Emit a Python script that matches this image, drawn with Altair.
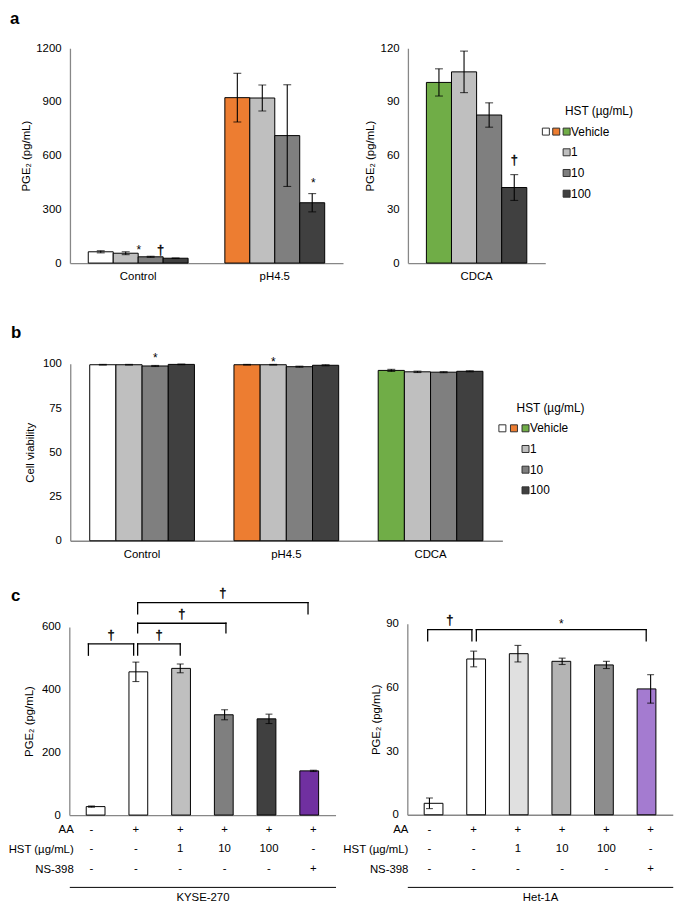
import altair as alt
import pandas as pd

FONT = "Liberation Sans"
INK = "#000000"
AXIS_GRAY = "#878787"
PAGE = 8
W, H = 677, 906


def px(v):
    return v - PAGE


def py(v):
    return v - PAGE


# ---------------- data ----------------
hst_levels = ["Vehicle", "1", "10", "100"]
KEYS = ["Vehicle|Control", "Vehicle|pH4.5", "Vehicle|CDCA", "1", "10", "100"]
KEY_COLORS = ["#ffffff", "#ed7d31", "#70ad47", "#bfbfbf", "#7f7f7f", "#404040"]

# panel a
a_left_groups = ["Control", "pH4.5"]
a_right_groups = ["CDCA"]
a_control_mean = [63, 55, 35, 27]
a_control_err = [6, 8, 3, 1.5]
a_ph_mean = [924, 922, 712, 337]
a_ph_err = [136, 73, 284, 51]
a_cdca_mean = [100.9, 106.8, 82.7, 42.2]
a_cdca_err = [7.6, 11.6, 6.8, 7.2]
a_left_ticks = [0, 300, 600, 900, 1200]
a_right_ticks = [0, 30, 60, 90, 120]
a_left_notes = [("Control", "10", "*", 90.5), ("Control", "10", "†", 74), ("pH4.5", "100", "*", 467)]
a_left_note_dx = [-12, 10, 1]
a_right_notes = [("CDCA", "100", "†", 57.8)]
a_right_note_dx = [0]

# panel b
b_groups = ["Control", "pH4.5", "CDCA"]
b_control_mean = [99.5, 99.5, 98.8, 99.7]
b_control_err = [0.2, 0.2, 0.3, 0.2]
b_ph_mean = [99.5, 99.5, 98.4, 99.2]
b_ph_err = [0.2, 0.2, 0.3, 0.3]
b_cdca_mean = [96.3, 95.5, 95.3, 95.8]
b_cdca_err = [0.6, 0.4, 0.3, 0.3]
b_ticks = [0, 25, 50, 75, 100]
b_notes = [("Control", "10", "*", 105.3), ("pH4.5", "1", "*", 103)]
b_note_dx = [0, 0]

legend_title = "HST (µg/mL)"
legend_labels = ["Vehicle", "1", "10", "100"]

# panel c
c_conditions = ["none", "AA", "AA+HST 1", "AA+HST 10", "AA+HST 100", "AA+NS-398"]
c_row_names = ["AA", "HST (µg/mL)", "NS-398"]
c_aa = ["-", "+", "+", "+", "+", "+"]
c_hst = ["-", "-", "1", "10", "100", "-"]
c_ns = ["-", "-", "-", "-", "-", "+"]
kyse_mean = [27, 457, 468, 320, 307, 141]
kyse_err = [2, 31, 14, 16, 15, 2]
het_mean = [5.4, 73.4, 75.9, 72.3, 70.6, 59.3]
het_err = [2.5, 3.7, 3.9, 1.5, 1.7, 6.7]
kyse_colors = ["#ffffff", "#ffffff", "#bfbfbf", "#7f7f7f", "#404040", "#7030a0"]
het_colors = ["#ffffff", "#ffffff", "#e0e0e0", "#b4b4b4", "#8d8d8d", "#a47bd0"]
kyse_ticks = [0, 200, 400, 600]
het_ticks = [0, 30, 60, 90]
# brackets: (left x, right x, top, leg bottom, symbol) in data units
kyse_brackets = [(-0.07, 0.95, 546, 510, "†"), (1.04, 2.0, 546, 510, "†"),
                 (1.04, 3.03, 612, 581, "†"), (1.04, 4.88, 678, 642, "†")]
het_brackets = [(-0.04, 0.96, 87.2, 81.9, "†"), (1.06, 4.9, 87.2, 81.9, "*")]

layers = []


def sym_dy(s):
    return 3.4 if s == "*" else 0


def sym_style(s):
    if s == "†":
        return dict(fontSize=13, stroke=INK, strokeWidth=0.35)
    return dict(fontSize=12)


def grouped(groups, means, errs, notes, note_dx, box, pads, ydom, yticks, ytitle, tpad, cap):
    x0, x1, y0, y1 = box
    rows = []
    for g, ms, es in zip(groups, means, errs):
        for h, m, e in zip(hst_levels, ms, es):
            rows.append({"group": g, "hst": h, "mean": m, "lo": m - e, "hi": m + e,
                         "key": ("Vehicle|" + g) if h == "Vehicle" else h})
    df = pd.DataFrame(rows)
    xs = alt.Scale(type="band", domain=groups, range=[px(x0), px(x1)],
                   paddingInner=pads[0], paddingOuter=pads[1])
    ys = alt.Scale(domain=ydom, range=[py(y1), py(y0)], nice=False, zero=True)
    xaxis = alt.Axis(title=None, orient="bottom", offset=py(y1) - H, labelAngle=0, ticks=False,
                     grid=False, domainColor=AXIS_GRAY, domainWidth=1.3, labelPadding=8)
    yaxis = alt.Axis(title=ytitle, orient="left", offset=-px(x0), values=yticks, format="d", ticks=False,
                     grid=False, domainColor=AXIS_GRAY, domainWidth=1.3, labelPadding=9,
                     titlePadding=tpad, titleFontWeight="normal")

    def xe(show=False):
        return alt.X("group:N", scale=xs, axis=xaxis if show else None)

    def xo():
        return alt.XOffset("hst:N", scale=alt.Scale(type="band", domain=hst_levels,
                                                     paddingInner=0, paddingOuter=0))

    def ye(f, show=False):
        return alt.Y(f, type="quantitative", scale=ys, axis=yaxis if show else None)

    out = [
        alt.Chart(df).mark_bar(stroke=INK, strokeWidth=1).encode(
            x=xe(True), xOffset=xo(), y=ye("mean", True),
            fill=alt.Fill("key:N", scale=alt.Scale(domain=KEYS, range=KEY_COLORS), legend=None)),
        alt.Chart(df).mark_rule(color=INK, strokeWidth=1.1).encode(
            x=xe(), xOffset=xo(), y=ye("lo"), y2="hi:Q"),
    ]
    for f in ("lo", "hi"):
        out.append(alt.Chart(df).mark_tick(color=INK, thickness=1.1, size=cap, orient="horizontal").encode(
            x=xe(), xOffset=xo(), y=ye(f)))
    for (g, h, s, lv), dx in zip(notes, note_dx):
        ndf = pd.DataFrame([{"group": g, "hst": h, "sym": s, "level": lv}])
        out.append(alt.Chart(ndf).mark_text(font=FONT, dx=dx, dy=sym_dy(s), baseline="middle", fill=INK,
                                            **sym_style(s)).encode(
            x=xe(), xOffset=xo(), y=ye("level"), text="sym:N"))
    return out


def legend(cx, ry, title_dx):
    xs = alt.Scale(domain=[0, 2], range=[px(cx[0]), px(cx[1])], nice=False, zero=False)
    ys = alt.Scale(domain=[-1, 3], range=[py(ry[0]), py(ry[1])], nice=False, zero=False)
    sq = pd.DataFrame({"col": [0, 1, 2, 2, 2, 2], "row": [0, 0, 0, 1, 2, 3], "key": KEYS})
    lab = pd.DataFrame({"col": [2] * 4, "row": [0, 1, 2, 3], "text": legend_labels})
    tit = pd.DataFrame({"col": [2], "row": [-1], "text": [legend_title]})
    return [
        alt.Chart(sq).mark_square(size=50, stroke="#303030", strokeWidth=1, opacity=1).encode(
            x=alt.X("col:Q", scale=xs, axis=None), y=alt.Y("row:Q", scale=ys, axis=None),
            fill=alt.Fill("key:N", scale=alt.Scale(domain=KEYS, range=KEY_COLORS), legend=None)),
        alt.Chart(lab).mark_text(font=FONT, fontSize=12, align="left", baseline="middle", dx=4.5, color=INK).encode(
            x=alt.X("col:Q", scale=xs, axis=None), y=alt.Y("row:Q", scale=ys, axis=None), text="text:N"),
        alt.Chart(tit).mark_text(font=FONT, fontSize=12, align="left", baseline="middle", dx=title_dx, color=INK).encode(
            x=alt.X("col:Q", scale=xs, axis=None), y=alt.Y("row:Q", scale=ys, axis=None), text="text:N"),
    ]


def c_panel(means, errs, colors, box, ydom, yticks, tpad, brackets, cell, label_end, rows_y, line_y):
    x0, x1, y0, y1 = box
    df = pd.DataFrame({"idx": list(range(6)), "cond": c_conditions, "mean": means,
                       "lo": [m - e for m, e in zip(means, errs)], "hi": [m + e for m, e in zip(means, errs)]})
    xs = alt.Scale(domain=[-0.5, 5.5], range=[px(x0), px(x1)], nice=False, zero=False)
    ys = alt.Scale(domain=ydom, range=[py(y1), py(y0)], nice=False, zero=True)
    xaxis = alt.Axis(orient="bottom", offset=py(y1) - H, labels=False, ticks=False, grid=False, title=None,
                     domainColor=AXIS_GRAY, domainWidth=1.3)
    yaxis = alt.Axis(title="PGE₂ (pg/mL)", orient="left", offset=-px(x0), values=yticks, format="d",
                     ticks=False, grid=False, domainColor=AXIS_GRAY, domainWidth=1.3, labelPadding=9,
                     titlePadding=tpad, titleFontWeight="normal")

    def xe(f, show=False):
        return alt.X(f, type="quantitative", scale=xs, axis=xaxis if show else None)

    def ye(f, show=False):
        return alt.Y(f, type="quantitative", scale=ys, axis=yaxis if show else None)

    out = [
        alt.Chart(df).mark_bar(size=19, stroke=INK, strokeWidth=1, orient="vertical").encode(
            x=xe("idx", True), y=ye("mean", True),
            fill=alt.Fill("cond:N", scale=alt.Scale(domain=c_conditions, range=colors), legend=None)),
        alt.Chart(df).mark_rule(color=INK, strokeWidth=1.1).encode(x=xe("idx"), y=ye("lo"), y2="hi:Q"),
    ]
    for f in ("lo", "hi"):
        out.append(alt.Chart(df).mark_tick(color=INK, thickness=1.1, size=7, orient="horizontal").encode(
            x=xe("idx"), y=ye(f)))
    bdf = pd.DataFrame([{"x1": a, "x2": b, "mid": (a + b) / 2, "top": t, "bot": bt, "sym": s}
                        for a, b, t, bt, s in brackets])
    out.append(alt.Chart(bdf).mark_rule(color=INK, strokeWidth=1.3, strokeCap="square").encode(
        x=xe("x1"), x2="x2:Q", y=ye("top")))
    for f in ("x1", "x2"):
        out.append(alt.Chart(bdf).mark_rule(color=INK, strokeWidth=1.3, strokeCap="square").encode(
            x=xe(f), y=ye("bot"), y2="top:Q"))
    for s in sorted(set(bdf["sym"])):
        out.append(alt.Chart(bdf[bdf["sym"] == s]).mark_text(
            font=FONT, baseline="middle", dy=-9.5 + sym_dy(s), fill=INK, **sym_style(s)).encode(
            x=xe("mid"), y=ye("top"), text="sym:N"))
    # condition table underneath
    trows = []
    for i in range(6):
        for name, vals in zip(c_row_names, (c_aa, c_hst, c_ns)):
            trows.append({"idx": i, "row": name, "val": vals[i]})
    tdf = pd.DataFrame(trows)
    txaxis = alt.Axis(orient="bottom", offset=py(line_y) - H, labels=False, ticks=False, grid=False,
                      title=cell, titlePadding=5, titleFontWeight="normal", domainColor=INK, domainWidth=1)
    tys = alt.Scale(type="point", domain=c_row_names, range=[py(rows_y[0]), py(rows_y[1])], padding=0)
    tyaxis = alt.Axis(orient="left", offset=-px(label_end), domain=False, ticks=False, grid=False,
                      labelPadding=0, title=None)
    out.append(alt.Chart(tdf).mark_text(font=FONT, fontSize=11.5, baseline="middle", color=INK).encode(
        x=alt.X("idx:Q", scale=xs, axis=txaxis), y=alt.Y("row:N", scale=tys, axis=tyaxis), text="val:N"))
    return out


layers += grouped(a_left_groups, [a_control_mean, a_ph_mean], [a_control_err, a_ph_err],
                  a_left_notes, a_left_note_dx, (70.7, 347, 43.3, 260.7), (0.269, 0.134),
                  [0, 1200], a_left_ticks, "PGE₂ (pg/mL)", 4, 8)
layers += grouped(a_right_groups, [a_cdca_mean], [a_cdca_err],
                  a_right_notes, a_right_note_dx, (412.7, 551.7, 43.3, 260.7), (0, 0.184),
                  [0, 120], a_right_ticks, "PGE₂ (pg/mL)", 5, 8)
layers += legend((552.3, 573.3), (106.7, 190.5), -1.6)
layers += grouped(b_groups, [b_control_mean, b_ph_mean, b_cdca_mean], [b_control_err, b_ph_err, b_cdca_err],
                  b_notes, b_note_dx, (71, 508.3, 362.7, 541.7), (0.274, 0.135),
                  [0, 100], b_ticks, "Cell viability", 7, 8)
layers += legend((508.3, 531.7), (407, 490.7), -9)
layers += c_panel(kyse_mean, kyse_err, kyse_colors, (70.05, 339.45, 629, 819.3), [0, 600], kyse_ticks, 7,
                  kyse_brackets, "KYSE-270", 74, (834, 874), 892)
layers += c_panel(het_mean, het_err, het_colors, (412.1, 680.7, 625.7, 819), [0, 90], het_ticks, 4,
                  het_brackets, "Het-1A", 412.7, (834, 874), 892)

# panel tags
for tag, (tx, ty) in zip(["a", "b", "c"], [(10, 18.3), (11, 336.7), (11, 603)]):
    layers.append(alt.Chart(pd.DataFrame({"t": [tag]})).mark_text(
        font=FONT, fontSize=17, fontWeight="bold", align="left", baseline="alphabetic", color=INK).encode(
        x=alt.value(px(tx)), y=alt.value(py(ty)), text="t:N"))

chart = alt.layer(*layers).resolve_scale(
    x="independent", y="independent", xOffset="independent", fill="independent"
).properties(
    width=W, height=H, padding=0, autosize=alt.AutoSizeParams(type="none")
).configure_view(stroke=None).configure_axis(
    labelFont=FONT, titleFont=FONT, labelFontSize=11.5, titleFontSize=11.5,
    labelColor=INK, titleColor=INK
).configure_text(font=FONT)

chart.save("out.html", embed_options={"renderer": "svg", "actions": False})
